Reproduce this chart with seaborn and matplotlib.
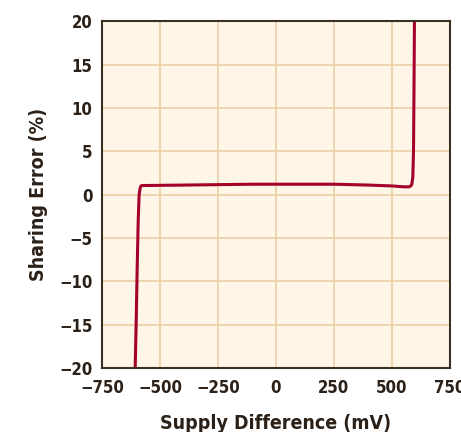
import matplotlib
matplotlib.use("Agg")
import matplotlib.pyplot as plt
import seaborn as sns
import pandas as pd

# Sharing error vs supply difference
supply_mv = [-607, -603, -598, -594, -590, -586, -582, -578, -560, -500, -400,
             -250, -100, 0, 100, 250, 400, 500, 550, 575, 585, 590, 593, 595, 597]
error_pct = [-20, -15, -8, -3, 0, 0.7, 1.0, 1.05, 1.05, 1.07, 1.1,
             1.15, 1.2, 1.2, 1.2, 1.2, 1.1, 1.0, 0.9, 0.9, 1.1, 2.0, 5.0, 12.0, 20.0]
x_ticks = [-750, -500, -250, 0, 250, 500, 750]
y_ticks = [-20, -15, -10, -5, 0, 5, 10, 15, 20]

df = pd.DataFrame({"supply": supply_mv, "error": error_pct})

sns.set_style("white")
plt.rcParams["font.family"] = ["DejaVu Sans Condensed", "DejaVu Sans"]
plt.rcParams["font.stretch"] = "condensed"
plt.rcParams["font.weight"] = "bold"

text_col = "#2b2118"
fig = plt.figure(figsize=(4.61, 4.32), dpi=100)
ax = fig.add_axes([0.2213, 0.148, 0.7547, 0.803])
ax.set_facecolor("#fff6e7")

sns.lineplot(data=df, x="supply", y="error", ax=ax, color="#a4002c",
             linewidth=2.2, estimator=None, sort=False)

ax.set_xlim(-750, 750)
ax.set_ylim(-20, 20)
ax.set_xticks(x_ticks)
ax.set_yticks(y_ticks)
ax.set_xticklabels([str(t).replace("-", "\u2212") for t in x_ticks])
ax.set_yticklabels([str(t).replace("-", "\u2212") for t in y_ticks])
ax.grid(True, color="#ebcfa8", linewidth=1.2)
ax.set_axisbelow(True)
ax.tick_params(length=0, labelsize=12, colors=text_col)
ax.tick_params(axis="x", pad=8)
ax.tick_params(axis="y", pad=7)
for lbl in ax.get_xticklabels() + ax.get_yticklabels():
    lbl.set_fontweight("bold")
for s in ax.spines.values():
    s.set_color("#3a3026")
    s.set_linewidth(1.5)

ax.set_xlabel("Supply Difference (mV)", fontsize=14, fontweight="bold",
              color=text_col, labelpad=12)
ax.set_ylabel("Sharing Error (%)", fontsize=14, fontweight="bold",
              color=text_col, labelpad=8)

fig.savefig("out.png", dpi=100)
